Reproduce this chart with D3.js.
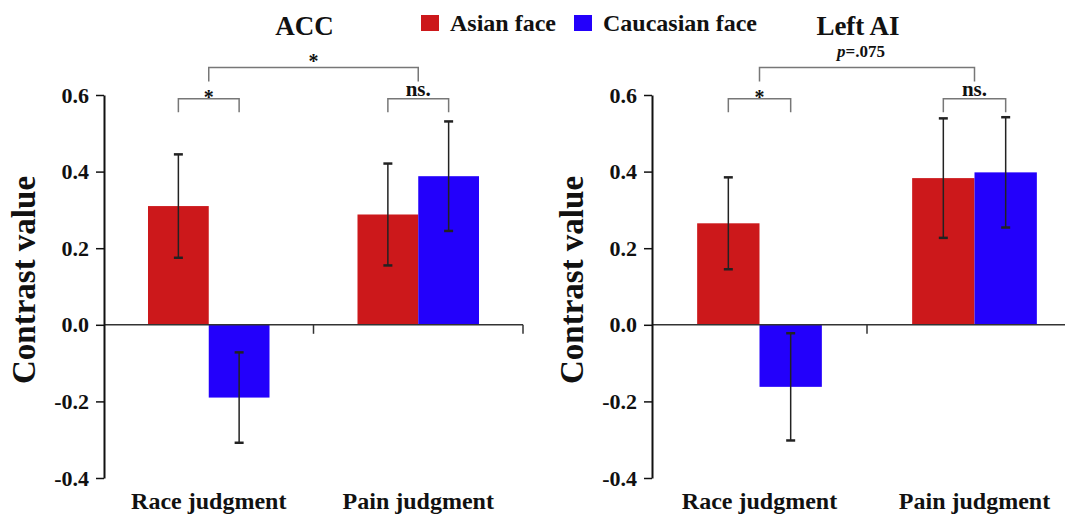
<!DOCTYPE html>
<html>
<head>
<meta charset="utf-8">
<script src="https://cdn.jsdelivr.net/npm/d3@7"></script>
</head>
<body style="margin:0">
<script>
  // values
  var categories = ['Race judgment', 'Pain judgment'];
  var seriesNames = ['Asian face', 'Caucasian face'];
  var seriesColors = ['#cc181b', '#2300fb'];
  var panelTitles = ['ACC', 'Left AI'];

  var accAsian = [0.310, 0.288];
  var accAsianErr = [0.135, 0.133];
  var accCaucasian = [-0.190, 0.388];
  var accCaucasianErr = [0.118, 0.143];

  var aiAsian = [0.265, 0.383];
  var aiAsianErr = [0.120, 0.156];
  var aiCaucasian = [-0.162, 0.398];
  var aiCaucasianErr = [0.140, 0.144];

  var yTicks = [-0.4, -0.2, 0.0, 0.2, 0.4, 0.6];
  var yTickLabels = ['-0.4', '-0.2', '0.0', '0.2', '0.4', '0.6'];

  var groupSig = [['*', 'ns.'], ['*', 'ns.']];
  var topSig = ['*', 'p=.075'];

  var W = 1065, H = 515;
  var FONT = 'Liberation Serif';
  var svg = d3.select('body').append('svg')
              .attr('width', W)
              .attr('height', H);

  // every text gets its font set on itself, as attribute and inline style
  function label(sel, size){
    return sel.append('text')
              .attr('font-family', FONT)
              .attr('font-weight', 'bold')
              .attr('font-size', size)
              .attr('fill', '#111')
              .style('font-family', "'Liberation Serif', serif")
              .style('font-weight', 'bold');
  }

  var y = d3.scaleLinear().domain([-0.4, 0.6]).range([478, 95]);

  var panels = [
    {title: panelTitles[0], asian: accAsian, asianErr: accAsianErr, cauc: accCaucasian, caucErr: accCaucasianErr,
     range: [104, 523], labelX: 35, sig: groupSig[0], top: topSig[0]},
    {title: panelTitles[1], asian: aiAsian, asianErr: aiAsianErr, cauc: aiCaucasian, caucErr: aiCaucasianErr,
     range: [652, 1082], labelX: 583, sig: groupSig[1], top: topSig[1]}
  ];

  panels.forEach(function(p){
    var g = svg.append('g');

    var x0 = d3.scaleBand().domain(categories).range(p.range);
    var bw = x0.bandwidth();
    var x1 = d3.scaleBand().domain(seriesNames).range([0.21 * bw, 0.79 * bw]);

    var rows = [];
    categories.forEach(function(c, i){
      rows.push({cat: c, s: seriesNames[0], v: p.asian[i], e: p.asianErr[i], color: seriesColors[0]});
      rows.push({cat: c, s: seriesNames[1], v: p.cauc[i], e: p.caucErr[i], color: seriesColors[1]});
    });

    // bars
    g.selectAll('rect.bar')
      .data(rows)
      .enter()
      .append('rect')
      .attr('class', 'bar')
      .attr('x', function(d){ return x0(d.cat) + x1(d.s); })
      .attr('width', x1.bandwidth())
      .attr('y', function(d){ return y(Math.max(0, d.v)); })
      .attr('height', function(d){ return Math.abs(y(d.v) - y(0)); })
      .attr('fill', function(d){ return d.color; });

    // error bars
    function cx(d){ return x0(d.cat) + x1(d.s) + x1.bandwidth() / 2; }
    g.selectAll('line.err')
      .data(rows)
      .enter()
      .append('line')
      .attr('x1', cx).attr('x2', cx)
      .attr('y1', function(d){ return y(d.v + d.e); })
      .attr('y2', function(d){ return y(d.v - d.e); })
      .attr('stroke', '#222')
      .attr('stroke-width', 1.5);
    [1, -1].forEach(function(sign){
      g.selectAll(null)
        .data(rows)
        .enter()
        .append('line')
        .attr('x1', function(d){ return cx(d) - 4.5; })
        .attr('x2', function(d){ return cx(d) + 4.5; })
        .attr('y1', function(d){ return y(d.v + sign * d.e); })
        .attr('y2', function(d){ return y(d.v + sign * d.e); })
        .attr('stroke', '#222')
        .attr('stroke-width', 2.5);
    });

    // zero line with category ticks
    g.append('line')
      .attr('x1', p.range[0]).attr('x2', p.range[1])
      .attr('y1', y(0)).attr('y2', y(0))
      .attr('stroke', '#333')
      .attr('stroke-width', 1.5);
    g.selectAll('line.xtick')
      .data(categories)
      .enter()
      .append('line')
      .attr('x1', function(c){ return x0(c) + bw; })
      .attr('x2', function(c){ return x0(c) + bw; })
      .attr('y1', y(0))
      .attr('y2', y(0) + 9)
      .attr('stroke', '#333')
      .attr('stroke-width', 1.5);

    // category labels
    categories.forEach(function(c){
      label(g, 24)
        .attr('x', x0(c) + bw / 2)
        .attr('y', 509)
        .attr('text-anchor', 'middle')
        .text(c);
    });

    // y axis
    var yAxis = d3.axisLeft(y)
                  .tickValues(yTicks)
                  .tickSize(8)
                  .tickSizeOuter(0)
                  .tickPadding(7)
                  .tickFormat(function(d, i){ return yTickLabels[i]; });
    var ax = g.append('g')
              .attr('transform', 'translate(' + p.range[0] + ',0)')
              .call(yAxis)
              .attr('font-family', FONT);
    ax.select('.domain').attr('stroke', '#111').attr('stroke-width', 2);
    ax.selectAll('.tick line').attr('stroke', '#111').attr('stroke-width', 1.5);
    ax.selectAll('.tick text')
      .attr('fill', '#111')
      .attr('font-family', FONT)
      .attr('font-weight', 'bold')
      .attr('font-size', 22)
      .style('font-family', "'Liberation Serif', serif")
      .style('font-weight', 'bold');

    label(g, 33)
      .attr('transform', 'translate(' + p.labelX + ',280) rotate(-90)')
      .attr('text-anchor', 'middle')
      .text('Contrast value');

    // title
    label(g, 27)
      .attr('x', x0(categories[1]) - 9)
      .attr('y', 35)
      .attr('text-anchor', 'middle')
      .text(p.title);

    // significance brackets
    var lvl = y(0.59), foot = y(0.555);
    categories.forEach(function(c, i){
      var a = x0(c) + x1(seriesNames[0]) + x1.bandwidth() / 2;
      var b = x0(c) + x1(seriesNames[1]) + x1.bandwidth() / 2;
      g.append('path')
        .attr('d', 'M' + a + ',' + foot + 'V' + lvl + 'H' + b + 'V' + foot)
        .attr('fill', 'none')
        .attr('stroke', '#777')
        .attr('stroke-width', 1.5);
      if(p.sig[i] == '*'){
        label(g, 20).attr('x', (a + b) / 2).attr('y', lvl + 5)
          .attr('text-anchor', 'middle').text(p.sig[i]);
      } else {
        label(g, 21).attr('x', (a + b) / 2).attr('y', lvl - 3)
          .attr('text-anchor', 'middle').text(p.sig[i]);
      }
    });

    var topLvl = y(0.672), topFoot = y(0.635);
    var ta = x0(categories[0]) + bw / 2;
    var tb = x0(categories[1]) + bw / 2;
    g.append('path')
      .attr('d', 'M' + ta + ',' + topFoot + 'V' + topLvl + 'H' + tb + 'V' + topFoot)
      .attr('fill', 'none')
      .attr('stroke', '#777')
      .attr('stroke-width', 1.5);
    if(p.top == '*'){
      label(g, 20)
        .attr('x', (ta + tb) / 2)
        .attr('y', topLvl + 1)
        .attr('text-anchor', 'middle')
        .text('*');
    } else {
      var pt = label(g, 17)
        .attr('x', (ta + tb) / 2 - 6)
        .attr('y', topLvl - 10)
        .attr('text-anchor', 'middle');
      pt.append('tspan').attr('font-style', 'italic').text(p.top.slice(0, 1));
      pt.append('tspan').text(p.top.slice(1));
    }
  });

  // legend
  var legendX = [421, 574];
  seriesNames.forEach(function(s, i){
    svg.append('rect')
       .attr('x', legendX[i])
       .attr('y', 15)
       .attr('width', 18)
       .attr('height', 16)
       .attr('fill', seriesColors[i]);
    label(svg, 24)
       .attr('x', legendX[i] + 29)
       .attr('y', 31)
       .text(s);
  });
</script>
</body>
</html>
